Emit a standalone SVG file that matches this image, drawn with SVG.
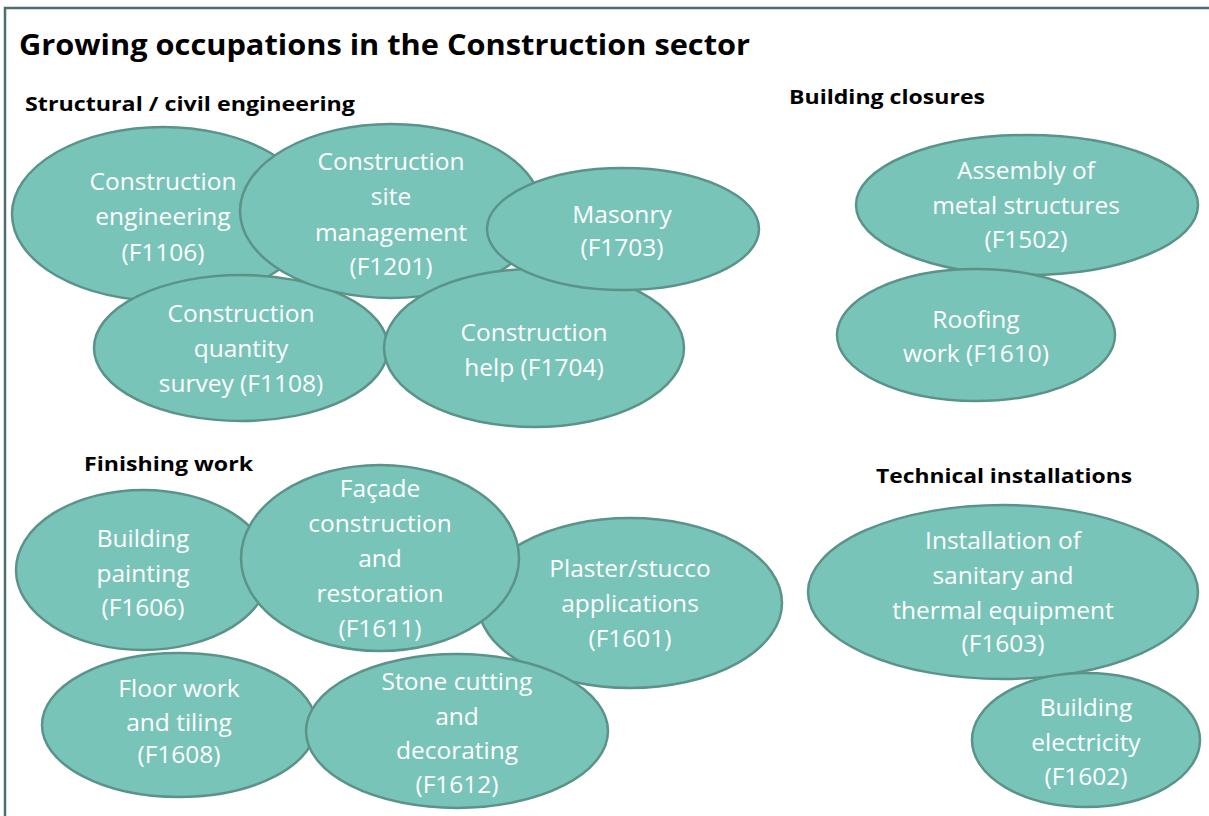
<svg xmlns="http://www.w3.org/2000/svg" width="1209" height="816" viewBox="0 0 1209 816">
  <style>
    .frame { fill: #ffffff; stroke: #4d6e6c; stroke-width: 2.5; }
    .title { font-family: "Open Sans", "Liberation Sans", sans-serif; font-weight: 700; font-size: 28px; fill: #000000; }
    .head { font-family: "Open Sans", "Liberation Sans", sans-serif; font-weight: 700; font-size: 20px; fill: #000000; }
    .bubble ellipse { fill: #79c4b8; stroke: #5b9389; stroke-width: 2.5; }
    .bubble text { font-family: "Open Sans", "Liberation Sans", sans-serif; font-size: 24.5px; fill: #ffffff; text-anchor: middle; }
  </style>

  <rect class="frame" x="5" y="8" width="1220" height="830"/>

  <text class="title" x="19" y="55" textLength="731" lengthAdjust="spacingAndGlyphs">Growing occupations in the Construction sector</text>
  <text class="head" x="25" y="111" textLength="330" lengthAdjust="spacingAndGlyphs">Structural / civil engineering</text>
  <text class="head" x="789" y="104" textLength="196" lengthAdjust="spacingAndGlyphs">Building closures</text>
  <text class="head" x="84" y="471" textLength="169" lengthAdjust="spacingAndGlyphs">Finishing work</text>
  <text class="head" x="876" y="483" textLength="256" lengthAdjust="spacingAndGlyphs">Technical installations</text>

  <!-- Structural / civil engineering -->
  <g id="f1106" class="bubble">
    <ellipse cx="163" cy="214" rx="151" ry="87"/>
    <text x="163" y="190">Construction</text>
    <text x="163" y="225">engineering</text>
    <text x="163" y="261">(F1106)</text>
  </g>
  <g id="f1108" class="bubble">
    <ellipse cx="241" cy="348" rx="147" ry="73"/>
    <text x="241" y="322">Construction</text>
    <text x="241" y="357">quantity</text>
    <text x="241" y="392">survey (F1108)</text>
  </g>
  <g id="f1201" class="bubble">
    <ellipse cx="391" cy="211" rx="151" ry="87"/>
    <text x="391" y="170">Construction</text>
    <text x="391" y="205">site</text>
    <text x="391" y="241">management</text>
    <text x="391" y="275">(F1201)</text>
  </g>
  <g id="f1704" class="bubble">
    <ellipse cx="534" cy="348" rx="150" ry="79"/>
    <text x="534" y="341">Construction</text>
    <text x="534" y="376">help (F1704)</text>
  </g>
  <g id="f1703" class="bubble">
    <ellipse cx="623" cy="229" rx="136" ry="61"/>
    <text x="622" y="223">Masonry</text>
    <text x="622" y="256">(F1703)</text>
  </g>

  <!-- Building closures -->
  <g id="f1502" class="bubble">
    <ellipse cx="1027" cy="205" rx="171" ry="70"/>
    <text x="1026" y="179">Assembly of</text>
    <text x="1026" y="214">metal structures</text>
    <text x="1026" y="248">(F1502)</text>
  </g>
  <g id="f1610" class="bubble">
    <ellipse cx="976" cy="335" rx="139" ry="66"/>
    <text x="976" y="328">Roofing</text>
    <text x="976" y="362">work (F1610)</text>
  </g>

  <!-- Finishing work -->
  <g id="f1606" class="bubble">
    <ellipse cx="143" cy="570" rx="127" ry="80"/>
    <text x="143" y="547">Building</text>
    <text x="143" y="582">painting</text>
    <text x="143" y="616">(F1606)</text>
  </g>
  <g id="f1601" class="bubble">
    <ellipse cx="630" cy="603" rx="152" ry="85"/>
    <text x="630" y="577">Plaster/stucco</text>
    <text x="630" y="612">applications</text>
    <text x="630" y="647">(F1601)</text>
  </g>
  <g id="f1611" class="bubble">
    <ellipse cx="380" cy="558" rx="139" ry="93"/>
    <text x="380" y="497">Façade</text>
    <text x="380" y="532">construction</text>
    <text x="380" y="567">and</text>
    <text x="380" y="602">restoration</text>
    <text x="380" y="637">(F1611)</text>
  </g>
  <g id="f1608" class="bubble">
    <ellipse cx="179" cy="725" rx="137" ry="72"/>
    <text x="179" y="697">Floor work</text>
    <text x="179" y="731">and tiling</text>
    <text x="179" y="763">(F1608)</text>
  </g>
  <g id="f1612" class="bubble">
    <ellipse cx="457" cy="731" rx="151" ry="77"/>
    <text x="457" y="690">Stone cutting</text>
    <text x="457" y="725">and</text>
    <text x="457" y="759">decorating</text>
    <text x="457" y="793">(F1612)</text>
  </g>

  <!-- Technical installations -->
  <g id="f1603" class="bubble">
    <ellipse cx="1003" cy="592" rx="195" ry="87"/>
    <text x="1003" y="549">Installation of</text>
    <text x="1003" y="584">sanitary and</text>
    <text x="1003" y="619">thermal equipment</text>
    <text x="1003" y="652">(F1603)</text>
  </g>
  <g id="f1602" class="bubble">
    <ellipse cx="1086" cy="740" rx="114" ry="67"/>
    <text x="1086" y="716">Building</text>
    <text x="1086" y="751">electricity</text>
    <text x="1086" y="785">(F1602)</text>
  </g>
</svg>
